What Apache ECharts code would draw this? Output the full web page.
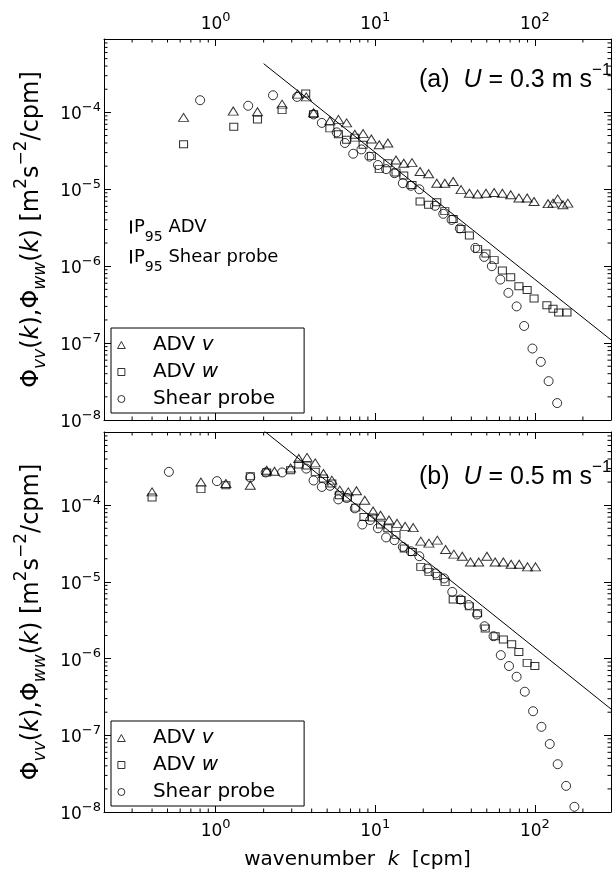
<!DOCTYPE html>
<html><head><meta charset="utf-8">
<script src="https://cdn.jsdelivr.net/npm/echarts@6/dist/echarts.min.js"></script>
<style>html,body{margin:0;padding:0;background:#fff}#c{width:614px;height:873px}</style>
</head><body><div id="c"></div>
<script>
// ---------- data (wavenumber k [cpm], spectrum [m^2 s^-2 / cpm]) ----------
const seriesNames = ['ADV v', 'ADV w', 'Shear probe'];

// panel (a) U = 0.3 m/s
const aADVv = [[0.63,8.6e-5],[1.29,1.04e-4],[1.83,1.02e-4],[2.61,1.28e-4],[3.27,1.73e-4],[3.70,1.59e-4],[4.11,9.9e-5],[5.2,7.8e-5],[5.88,8.1e-5],[6.62,7.3e-5],[7.45,5.2e-5],[8.4,5.3e-5],[9.46,4.5e-5],[10.6,3.8e-5],[12.0,4.0e-5],[13.5,2.4e-5],[15.1,2.18e-5],[17.0,2.22e-5],[19.1,1.7e-5],[21.6,1.59e-5],[24.3,1.2e-5],[27.3,1.2e-5],[30.8,1.26e-5],[34.5,9.9e-6],[38.9,8.9e-6],[43.8,8.7e-6],[49.4,8.9e-6],[55.6,9.1e-6],[62.6,8.9e-6],[70.6,8.5e-6],[79.5,7.7e-6],[89.5,7.7e-6],[98.9,6.95e-6],[121,6.5e-6],[130,6.6e-6],[139,7.5e-6],[150,6.3e-6],[161,6.6e-6]];
const aADVw = [[0.63,3.85e-5],[1.3,6.5e-5],[1.83,8.1e-5],[2.61,1.07e-4],[3.67,1.76e-4],[4.11,9.5e-5],[5.2,6.2e-5],[5.88,5.2e-5],[6.62,4.4e-5],[7.45,4.7e-5],[8.4,3.8e-5],[9.46,2.7e-5],[10.6,1.83e-5],[12.0,2.18e-5],[13.5,1.65e-5],[15.1,1.51e-5],[17.0,1.14e-5],[19.1,6.95e-6],[21.6,6.3e-6],[24.3,6.8e-6],[27.3,5.2e-6],[30.8,4.1e-6],[34.5,3.05e-6],[38.9,2.5e-6],[43.8,1.68e-6],[49.4,1.46e-6],[55.6,1.2e-6],[62.6,8.8e-7],[70.6,7.2e-7],[79.5,5.5e-7],[89.5,4.9e-7],[98.9,3.8e-7],[119,3.1e-7],[130,2.8e-7],[141,2.5e-7],[159,2.5e-7]];
const aShear = [[0.80,1.44e-4],[1.60,1.22e-4],[2.29,1.67e-4],[3.24,1.59e-4],[4.11,9.4e-5],[4.63,7.3e-5],[5.74,5.5e-5],[6.46,4.0e-5],[7.28,2.9e-5],[8.2,3.3e-5],[9.2,2.66e-5],[10.4,2.07e-5],[11.7,1.83e-5],[13.2,1.62e-5],[14.9,1.2e-5],[16.7,1.11e-5],[18.9,1.0e-5],[23.7,6.1e-6],[26.7,4.8e-6],[30.1,4.0e-6],[33.9,3.1e-6],[42.4,1.73e-6],[48.2,1.32e-6],[53.8,1.0e-6],[60.8,6.7e-7],[68.3,4.5e-7],[76.9,3.0e-7],[85.7,1.67e-7],[96.6,8.5e-8],[109,5.7e-8],[122,3.2e-8],[138,1.66e-8]];
const aSlope = [[2,4.3e-4],[300,1.1e-7]];

// panel (b) U = 0.5 m/s
const bADVv = [[0.40,1.49e-4],[0.81,2.0e-4],[1.16,1.92e-4],[1.65,1.82e-4],[2.09,2.86e-4],[2.34,2.77e-4],[2.95,3.06e-4],[3.32,4.06e-4],[3.74,4.2e-4],[4.21,3.56e-4],[4.74,2.59e-4],[5.35,2.12e-4],[6.0,1.57e-4],[6.78,1.49e-4],[7.63,1.54e-4],[8.6,1.16e-4],[9.7,8.4e-5],[10.8,7.4e-5],[12.2,6.4e-5],[13.7,5.8e-5],[15.4,5.3e-5],[17.3,5.1e-5],[19.3,3.4e-5],[21.7,3.2e-5],[24.5,3.5e-5],[27.6,2.64e-5],[31.1,2.3e-5],[35.1,2.16e-5],[39.5,1.82e-5],[44.5,1.82e-5],[50.1,2.16e-5],[56.4,1.82e-5],[63.5,1.82e-5],[71,1.7e-5],[79.8,1.7e-5],[90,1.57e-5],[101,1.57e-5]];
const bADVw = [[0.40,1.26e-4],[0.81,1.62e-4],[1.16,1.82e-4],[1.65,2.39e-4],[2.09,2.67e-4],[2.95,2.86e-4],[3.32,3.4e-4],[3.74,3.3e-4],[4.21,2.72e-4],[4.74,2.23e-4],[5.35,1.92e-4],[5.96,1.35e-4],[6.7,1.26e-4],[7.55,9.3e-5],[8.5,7.0e-5],[9.6,6.9e-5],[10.8,5.6e-5],[12.0,5.0e-5],[13.5,4.1e-5],[15.2,2.72e-5],[17.1,2.46e-5],[19.3,1.57e-5],[21.7,1.35e-5],[24.5,1.19e-5],[27.4,1.0e-5],[30.8,5.9e-6],[34.5,5.8e-6],[38.9,4.8e-6],[43.8,3.9e-6],[48.9,2.47e-6],[56.4,1.96e-6],[63.5,1.77e-6],[71.6,1.54e-6],[79.4,1.22e-6],[89.5,8.8e-7],[100,8.0e-7]];
const bShear = [[0.51,2.72e-4],[1.02,2.06e-4],[1.65,2.3e-4],[2.06,2.67e-4],[2.61,2.67e-4],[3.7,3.0e-4],[4.11,2.1e-4],[4.63,1.73e-4],[5.21,1.79e-4],[5.87,1.19e-4],[6.62,1.24e-4],[7.45,9.1e-5],[8.3,5.6e-5],[9.3,6.4e-5],[10.4,5.0e-5],[11.7,3.8e-5],[13.2,3.5e-5],[14.9,2.86e-5],[16.7,2.51e-5],[18.9,2.16e-5],[21.2,1.49e-5],[23.9,1.29e-5],[27.0,1.11e-5],[30.4,7.4e-6],[34.2,5.9e-6],[38.5,5.0e-6],[43.4,3.76e-6],[48.4,2.64e-6],[55.1,1.96e-6],[61.2,1.11e-6],[68.9,8.0e-7],[76.9,5.8e-7],[86.5,3.7e-7],[97.5,2.06e-7],[110,1.29e-7],[124,7.7e-8],[139,4.2e-8],[157,2.19e-8],[177,1.17e-8]];
const bSlope = [[2,9.4e-4],[300,2.2e-7]];

// axes
const xRange = [0.2, 300];
const yRange = [1e-8, 9e-4];
const xMinorTicks = [0.3,0.4,0.5,0.6,0.7,0.8,0.9,2,3,4,5,6,7,8,9,20,30,40,50,60,70,80,90,200];
const yMinorTicks = [2e-8,3e-8,4e-8,5e-8,6e-8,7e-8,8e-8,9e-8,2e-7,3e-7,4e-7,5e-7,6e-7,7e-7,8e-7,9e-7,2e-6,3e-6,4e-6,5e-6,6e-6,7e-6,8e-6,9e-6,2e-5,3e-5,4e-5,5e-5,6e-5,7e-5,8e-5,9e-5,2e-4,3e-4,4e-4,5e-4,6e-4,7e-4,8e-4];

// ---------- chart ----------
const FONT = 'DejaVu Sans';
const FONT2 = 'Liberation Sans';
const chart = echarts.init(document.getElementById('c'), null, {renderer: 'canvas'});

function powLabel(v) {
  const e = Math.log10(v), r = Math.round(e);
  if (Math.abs(e - r) > 1e-6) return '';
  return '{b|10}{s|' + (r < 0 ? '\u2212' + (-r) : String(r)) + '}';
}
const tickRich = {
  b: {fontFamily: FONT, fontSize: 17, color: '#000', padding: [5, 0, 0, 0], verticalAlign: 'bottom'},
  s: {fontFamily: FONT, fontSize: 13, color: '#000', verticalAlign: 'top'}
};
const grids = [
  {left: 104, top: 39, width: 513, height: 381},
  {left: 104, top: 432, width: 513, height: 380}
];
function xAx(gi, pos, showLabel, extra) {
  return Object.assign({
    type: 'log', gridIndex: gi, position: pos, min: xRange[0], max: xRange[1],
    axisLine: {show: true, lineStyle: {color: '#000', width: 1}},
    axisTick: {show: true, inside: true, length: 7, lineStyle: {color: '#000'}},
    splitLine: {show: false},
    axisLabel: {show: showLabel, margin: 6, formatter: powLabel, rich: tickRich, color: '#000'}
  }, extra || {});
}
function yAx(gi, pos, showLabel, extra) {
  return Object.assign({
    type: 'log', gridIndex: gi, position: pos, min: yRange[0], max: yRange[1],
    axisLine: {show: true, lineStyle: {color: '#000', width: 1}},
    axisTick: {show: true, inside: true, length: 7, lineStyle: {color: '#000'}},
    splitLine: {show: false},
    axisLabel: {show: showLabel, margin: 3, formatter: powLabel, rich: tickRich, color: '#000'}
  }, extra || {});
}
const yNameText = '{n|\u03A6}{sub|vv}{n|(}{i|k}{n|),\u03A6}{sub|ww}{n|(}{i|k}{n|) [m}{sup|2}{n|s}{sup|\u22122}{n|/cpm]}';
const nameRich = {
  n: {fontFamily: FONT, fontSize: 24, color: '#000', padding: [7, 0, 4, 0], verticalAlign: 'top'},
  i: {fontFamily: FONT, fontSize: 24, fontStyle: 'italic', color: '#000', padding: [7, 0, 4, 0], verticalAlign: 'top'},
  sub: {fontFamily: FONT, fontSize: 17, fontStyle: 'italic', color: '#000', padding: [19, 0, 0, 0], verticalAlign: 'top'},
  sup: {fontFamily: FONT, fontSize: 17, color: '#000', verticalAlign: 'top'}
};
const yName = {name: yNameText, nameLocation: 'middle', nameGap: 55, nameRotate: 90,
  nameTextStyle: {rich: nameRich, color: '#000'}};

const xAxes = [
  xAx(0, 'bottom', false),
  xAx(0, 'top', true),
  xAx(1, 'bottom', true, {name: '{n|wavenumber  }{i|k}{n|  [cpm]}', nameLocation: 'middle', nameGap: 38,
     nameTextStyle: {rich: {n: {fontFamily: FONT, fontSize: 20, color: '#000'}, i: {fontFamily: FONT, fontSize: 20, fontStyle: 'italic', color: '#000'}}}}),
  xAx(1, 'top', false)
];
const yAxes = [
  yAx(0, 'left', true, yName),
  yAx(0, 'right', false),
  yAx(1, 'left', true, yName),
  yAx(1, 'right', false)
];

const hollow = {color: 'rgba(0,0,0,0)', borderColor: '#000', borderWidth: 1};
const symbols = {'ADV v': ['triangle', [10, 8]], 'ADV w': ['rect', [8, 7]], 'Shear probe': ['circle', 9]};
function scatter(name, data, ai) {
  return {type: 'scatter', name, data, xAxisIndex: ai, yAxisIndex: ai,
    symbol: symbols[name][0], symbolSize: symbols[name][1], itemStyle: hollow, z: 3, silent: true};
}
function slope(data, ai) {
  return {type: 'line', data, xAxisIndex: ai, yAxisIndex: ai, symbol: 'none', clip: true,
    lineStyle: {color: '#000', width: 1}, z: 2, silent: true};
}
function minorX(ai) {
  return {type: 'custom', xAxisIndex: ai, yAxisIndex: ai, silent: true, z: 1,
    data: xMinorTicks.map(k => [k, yRange[0]]),
    renderItem: (p, api) => {
      const k = api.value(0);
      const b = api.coord([k, yRange[0]]), t = api.coord([k, yRange[1]]);
      return {type: 'group', children: [
        {type: 'line', shape: {x1: b[0], y1: b[1], x2: b[0], y2: b[1] - 3.5}, style: {stroke: '#000', lineWidth: 1}},
        {type: 'line', shape: {x1: t[0], y1: t[1], x2: t[0], y2: t[1] + 3.5}, style: {stroke: '#000', lineWidth: 1}}
      ]};
    }};
}
function minorY(ai) {
  return {type: 'custom', xAxisIndex: ai, yAxisIndex: ai, silent: true, z: 1,
    data: yMinorTicks.map(v => [xRange[0], v]),
    renderItem: (p, api) => {
      const v = api.value(1);
      const l = api.coord([xRange[0], v]), r = api.coord([xRange[1], v]);
      return {type: 'group', children: [
        {type: 'line', shape: {x1: l[0], y1: l[1], x2: l[0] + 3.5, y2: l[1]}, style: {stroke: '#000', lineWidth: 1}},
        {type: 'line', shape: {x1: r[0], y1: r[1], x2: r[0] - 3.5, y2: r[1]}, style: {stroke: '#000', lineWidth: 1}}
      ]};
    }};
}

const legendIcons = {
  'ADV v': 'path://M0,9L5,0L10,9Z',
  'ADV w': 'path://M0,0L10,0L10,10L0,10Z',
  'Shear probe': 'path://M0,5A5,5,0,1,1,10,5A5,5,0,1,1,0,5Z'
};
function legend(top) {
  return {
    orient: 'vertical', left: 111, top, itemWidth: 53, itemHeight: 7, itemGap: 7,
    padding: [7, 29, 4, 6], borderColor: '#000', borderWidth: 1, backgroundColor: '#fff',
    symbolKeepAspect: true, selectedMode: false,
    itemStyle: {color: 'rgba(0,0,0,0)', borderColor: '#000', borderWidth: 1},
    data: seriesNames.map(n => ({name: n, icon: legendIcons[n]})),
    formatter: n => n === 'ADV v' ? '{t|ADV }{i|v}' : n === 'ADV w' ? '{t|ADV }{i|w}' : '{t|Shear probe}',
    textStyle: {color: '#000', rich: {
      t: {fontFamily: FONT, fontSize: 20, color: '#000'},
      i: {fontFamily: FONT, fontSize: 20, fontStyle: 'italic', color: '#000'}}}
  };
}

const panelRich = {
  t: {fontFamily: FONT2, fontSize: 25, fill: '#000', padding: [6, 0, 0, 0], verticalAlign: 'top'},
  i: {fontFamily: FONT2, fontSize: 25, fontStyle: 'italic', fill: '#000', padding: [6, 0, 0, 0], verticalAlign: 'top'},
  sup: {fontFamily: FONT2, fontSize: 17, fill: '#000', verticalAlign: 'top'}
};
const p95Rich = {
  p: {fontFamily: FONT, fontSize: 18, fill: '#000', verticalAlign: 'top'},
  sub: {fontFamily: FONT, fontSize: 14, fill: '#000', padding: [12, 0, 0, 0], verticalAlign: 'top'}
};

chart.setOption({
  animation: false,
  backgroundColor: '#fff',
  grid: grids,
  xAxis: xAxes,
  yAxis: yAxes,
  legend: [legend(328), legend(721)],
  series: [
    slope(aSlope, 0), slope(bSlope, 2),
    scatter('ADV v', aADVv, 0), scatter('ADV w', aADVw, 0), scatter('Shear probe', aShear, 0),
    scatter('ADV v', bADVv, 2), scatter('ADV w', bADVw, 2), scatter('Shear probe', bShear, 2),
    minorX(0), minorY(0), minorX(2), minorY(2)
  ],
  graphic: [
    {type: 'text', x: 419, y: 62, style: {text: '{t|(a)  }{i|U}{t| = 0.3 m s}{sup|\u22121}', rich: panelRich, fill: '#000'}},
    {type: 'text', x: 419, y: 459, style: {text: '{t|(b)  }{i|U}{t| = 0.5 m s}{sup|\u22121}', rich: panelRich, fill: '#000'}},
    {type: 'line', shape: {x1: 131, y1: 220.5, x2: 131, y2: 233.5}, style: {stroke: '#000', lineWidth: 2}},
    {type: 'line', shape: {x1: 131, y1: 250, x2: 131, y2: 263.5}, style: {stroke: '#000', lineWidth: 2}},
    {type: 'text', x: 134, y: 218, style: {text: '{p|P}{sub|95}{p| ADV}', rich: p95Rich, fill: '#000'}},
    {type: 'text', x: 134, y: 248, style: {text: '{p|P}{sub|95}{p| Shear probe}', rich: p95Rich, fill: '#000'}}
  ]
});
</script></body></html>
